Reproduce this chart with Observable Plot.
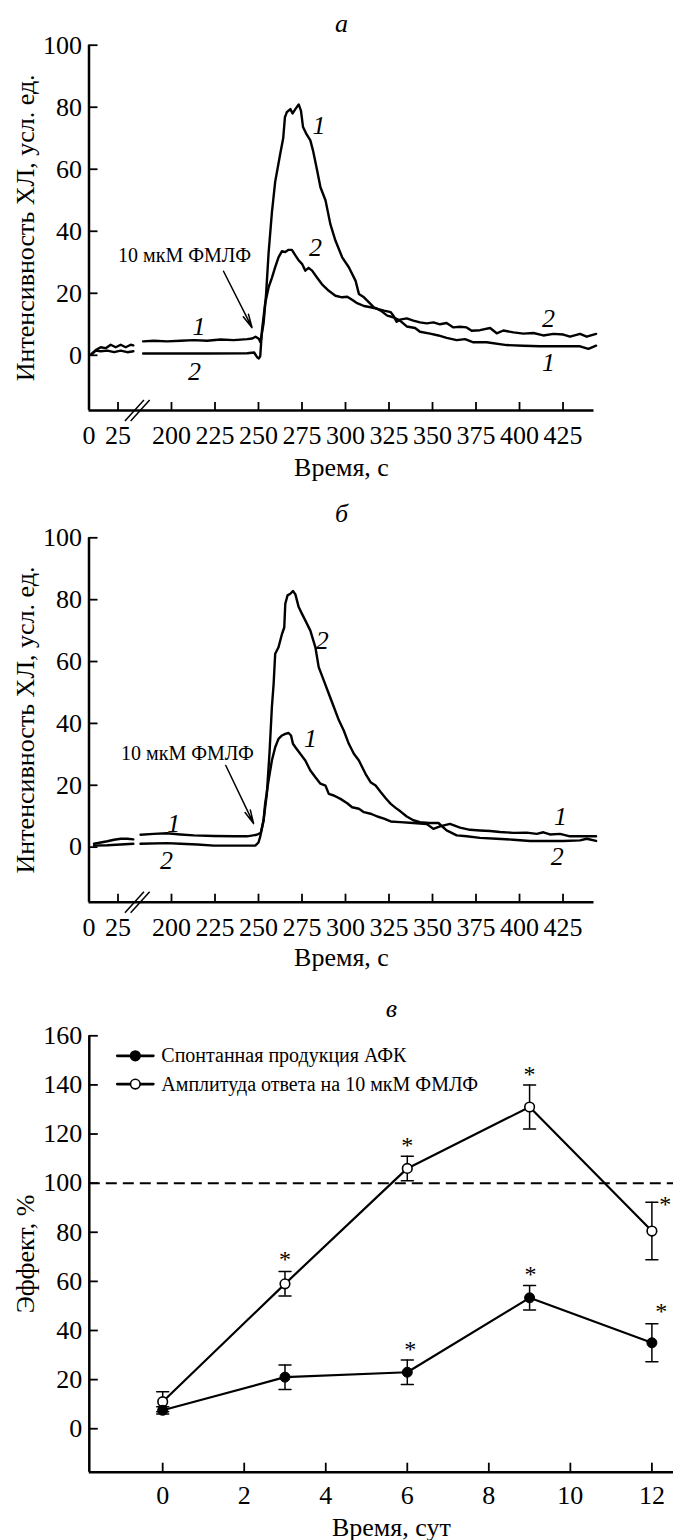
<!DOCTYPE html>
<html>
<head>
<meta charset="utf-8">
<script src="https://cdn.jsdelivr.net/npm/d3@7"></script>
<script src="https://cdn.jsdelivr.net/npm/@observablehq/plot@0.6"></script>
<style>
  body { margin: 0; background: #fff; }
  #chart { width: 673px; }
  #chart svg { display: block; }
</style>
</head>
<body>
<div id="chart"></div>
<script>
const FONT = "'Liberation Serif', 'Times New Roman', serif";
const W = 673;

// ---------- Kinetic panels (а, б) ----------
const timeTicks = [0, 25, 200, 225, 250, 275, 300, 325, 350, 375, 400, 425];
const yTicksKin = [0, 20, 40, 60, 80, 100];
const T_END = 442.8;
const Y_MIN_KIN = -17.8;

// panel а, curve 1  [time s, intensity]
const a1 = [[2,0.4],[5.8,1.7],[10.1,2.6],[14.4,2.3],[18.7,3.4],[23,2.6],[27.3,3.4],[31.6,2.6],[35.9,3.4],[38.2,3.2],
  [183.7,4.5],[189.8,4.7],[197.5,4.5],[205.2,4.7],[212.8,4.9],[220.5,4.7],[228.2,5.1],[235.8,4.9],[243.5,5.2],[246.4,5.4],[248.3,6.0],[250.2,5.3],[251.1,4.2],
  [252.9,10.2],[254.4,20],[255.8,33],[257.7,46],[259.6,56],[262.5,65],[264.2,70],[265.2,76.8],[266.3,78.4],[268.3,79.4],[269.6,78],[271.2,79.4],[273.1,80.9],[274.4,78.9],[275.6,73.6],[277.5,71.4],[279.8,69.3],[281.3,66.1],[283.3,60.7],[285.6,54.2],[288.5,50],[291.3,42.3],[294.2,37],[298.1,31.6],[301.9,28.4],[305.8,24],[307.7,19.8],[310.6,18.7],[313.5,17.1],[316.3,15.5],[320.2,14.4],[324,12.8],[327.9,12.2],[331.3,11.2],[335.2,9.3],[340,8.8],[342.8,7.6],[348.6,7.0],[353.4,6.4],[358.1,5.6],[363.9,4.9],[368.7,5.2],[373.5,4.2],[381.1,4.2],[392.6,3.3],[402.2,3.1],[411.8,2.9],[425.2,2.9],[434.8,2.9],[439.6,2.1],[444,3.1]];
// panel а, curve 2
const a2 = [[2,0.2],[5.8,1.5],[10.1,1.3],[15.8,1.5],[21.6,1.0],[27.3,1.5],[33,1.0],[38.2,1.3],
  [183.7,0.6],[200,0.6],[220,0.6],[243.5,0.65],[247.5,0.9],[249.2,-0.6],[250.2,-1.0],[251,-0.3],[252,8],[253.8,16.6],[255.8,21.9],[257.7,25],[259.6,28.4],[261.5,31.6],[263.5,33.6],[265.4,33.3],[267.3,34],[269.2,34],[271.2,32.2],[273.1,30.6],[275,29.5],[276.9,27.3],[278.8,28.2],[280.8,27.3],[283.7,25],[286.5,22.9],[290.4,20.8],[294.2,19.2],[298.1,18.7],[301,18.9],[303.8,17.9],[306.7,16.8],[310.6,15.9],[314.4,15.5],[318.3,15.0],[322.1,14.4],[326,13.9],[327.5,12.8],[329.4,10.8],[331.3,11.5],[335.2,11.9],[339,11.2],[342.8,10.6],[346.7,10.3],[350.5,10.6],[354.3,10],[358.1,10.4],[362,9.0],[365.8,9.2],[369.6,9.0],[372.5,7.9],[377.3,8.1],[383.1,8.8],[386.9,7.1],[390.7,8.0],[396.5,7.4],[402.2,7.0],[408,7.2],[413.7,6.4],[419.5,6.9],[425.2,6.7],[429,6.0],[434.8,6.9],[438.6,6.0],[444,6.9]];
// panel б, curve 1
const b1 = [[4.3,1.1],[10.1,1.5],[15.8,1.9],[21.6,2.4],[27.3,2.7],[33,2.7],[38.2,2.5],
  [182.2,4.0],[189.8,4.3],[197.5,4.5],[205.2,4.1],[212.8,3.8],[224.4,3.6],[235.8,3.5],[243.5,3.5],[249,4.0],[251.3,4.6],[252.9,8.6],[253.8,14],[255.8,21.6],[257.7,28],[259.6,32.3],[261.5,35],[263.5,36.1],[265.4,36.6],[267.3,36.9],[268.7,36.1],[269.8,33.4],[271.2,32.3],[274,30.2],[276.9,28],[279.8,24.8],[282.7,22.6],[285.6,20.5],[288.5,19.9],[290.4,17.2],[293.3,16.7],[297.1,15.6],[301,14.2],[303.8,12.9],[307.7,12.4],[310.6,11.3],[314.4,10.8],[318.3,9.9],[322.1,9.2],[326,8.3],[331.3,8.1],[339,7.8],[346.7,7.5],[350.5,5.9],[354.3,6.7],[360,7.5],[365.8,6.3],[371.6,5.6],[377.3,5.4],[383.1,5.2],[388.8,4.9],[396.5,4.6],[404.1,4.7],[409.9,4.3],[413.7,4.8],[417.5,4.1],[423.3,4.3],[429,3.5],[434.8,3.5],[444,3.5]];
// panel б, curve 2
const b2 = [[4.3,0.5],[15.8,0.6],[27.3,0.85],[38.2,1.1],
  [182.2,1.1],[197.5,1.3],[205.2,1.1],[214.8,0.85],[224.4,0.5],[234,0.5],[243.5,0.5],[248.3,0.55],[250,1.5],[251,3.4],[252.9,8.6],[254.8,17.2],[256.3,30.2],[257.7,45.3],[258.7,52.8],[259.6,62.5],[261.5,64.6],[263.5,68.9],[264.8,71],[265.4,78.7],[266.7,81.4],[268.3,81.9],[269.8,82.8],[271.2,81.7],[273.1,77.6],[275,75.4],[276.9,73.3],[279.8,70],[282.7,64.6],[284.6,58.2],[287.5,53.9],[290.4,49.6],[293.3,45.3],[296.2,41],[299,37.7],[301.9,33.4],[304.8,30.2],[307.7,28],[311.5,23.7],[314.4,21],[317.3,19.9],[320.2,17.8],[323.1,15.8],[326,14],[328.8,12.7],[331.7,11.5],[335.2,9.9],[339,8.7],[342.8,8.1],[348,7.8],[353.4,7.8],[358.1,5.4],[363.9,3.8],[369.6,3.5],[377.3,3.0],[386.9,2.7],[396.5,2.4],[406,2.0],[415.6,2.0],[425.2,2.0],[434.8,2.2],[438.6,2.7],[444,2.0]];

// curve number labels [time, value, text]
const aLabels = [[215.8,9.3,"1"],[213.2,-5.3,"2"],[284.7,74.1,"1"],[282.8,34.8,"2"],[416.7,11.8,"2"],[416.7,-2.4,"1"]];
const bLabels = [[201.3,7.6,"1"],[197.1,-4.3,"2"],[286.6,66.8,"2"],[279.9,35.0,"1"],[423.6,9.7,"1"],[421.7,-3.2,"2"]];
const stimText = "10 мкМ ФМЛФ";
const aStim = [207.5, 32.2];
const bStim = [209.2, 30.2];
// arrow [t1, v1, t2, v2]
const aArrow = [229.9, 27.1, 246.3, 8.9];
const bArrow = [231.2, 26.4, 247.2, 7.6];

// broken time axis: left part (0–40 s) compressed
function brk(t) { return t < 100 ? t * 0.667 : t - 152.6; }
const BREAK_P = [26.1, 29.4];

const lineShape = { draw(context, l) { context.moveTo(0, 0); context.lineTo(0, -l); } };

function kinetic(cfg) {
  const pTicks = timeTicks.map(brk);
  const fmt = p => String(timeTicks[pTicks.findIndex(q => Math.abs(q - p) < 1e-9)]);
  const X = d => brk(d[0]), Y = d => d[1], Z = d => (d[0] < 100 ? "L" : "R");
  return Plot.plot({
    width: W, height: cfg.height,
    marginTop: cfg.marginTop, marginBottom: cfg.marginBottom,
    marginLeft: 88.5, marginRight: W - 593.5,
    style: { fontFamily: FONT, background: "white", color: "black", overflow: "visible" },
    x: { domain: [0, brk(T_END)] },
    y: { domain: [Y_MIN_KIN, 100] },
    marks: [
      Plot.axisY({ ticks: yTicksKin, tickSize: -9, tickPadding: 16, fontSize: 26, fontFamily: FONT, strokeWidth: 1.8, label: null, tickFormat: d => String(d) }),
      Plot.axisX({ ticks: pTicks, tickSize: -8, tickPadding: 23, fontSize: 26, fontFamily: FONT, strokeWidth: 1.8, label: null, tickFormat: fmt }),
      Plot.ruleX([0], { strokeWidth: 2.5 }),
      Plot.ruleY([Y_MIN_KIN], { strokeWidth: 2.5 }),
      Plot.link(BREAK_P, { x1: p => p - 5.46, x2: p => p + 5.46, y1: Y_MIN_KIN - 3.4, y2: Y_MIN_KIN + 3.4, strokeWidth: 1.5, clip: false }),
      Plot.line(cfg.c1, { x: X, y: Y, z: Z, strokeWidth: 2.4, strokeLinejoin: "round" }),
      Plot.line(cfg.c2, { x: X, y: Y, z: Z, strokeWidth: 2.4, strokeLinejoin: "round" }),
      Plot.text(cfg.labels, { x: X, y: Y, text: d => d[2], fontSize: 26, fontStyle: "italic", fontFamily: FONT, fill: "black" }),
      Plot.text([cfg.stim], { x: X, y: Y, text: () => stimText, fontSize: 20, fontFamily: FONT, fill: "black" }),
      Plot.arrow([cfg.arrow], { x1: d => brk(d[0]), y1: d => d[1], x2: d => brk(d[2]), y2: d => d[3], strokeWidth: 1.5, headLength: 14, headAngle: 24 }),
      Plot.text([cfg.title], { frameAnchor: "top", lineAnchor: "middle", dy: cfg.titleDy, fontSize: 26, fontStyle: "italic", fontFamily: FONT, fill: "black" }),
      Plot.text(["Время, с"], { frameAnchor: "bottom", lineAnchor: "middle", dy: cfg.xLabelDy, fontSize: 26, fontFamily: FONT, fill: "black" }),
      Plot.text(["Интенсивность ХЛ, усл. ед."], { frameAnchor: "left", textAnchor: "middle", lineAnchor: "middle", rotate: -90, dx: -63.5, fontSize: 26, fontFamily: FONT, fill: "black" })
    ]
  });
}

// ---------- Panel в ----------
const days = [0, 3, 6, 9, 12];
const spont = [7.5, 21, 23, 53.3, 35];
const spontErr = [1.5, 5, 5, 5, 7.7];
const fmlp = [11, 59, 106, 131, 80.5];
const fmlpErr = [4.1, 5, 5, 9, 11.7];
const dayTicks = [0, 2, 4, 6, 8, 10, 12];
const yTicksEff = [0, 20, 40, 60, 80, 100, 120, 140, 160];
const seriesNames = ["Спонтанная продукция АФК", "Амплитуда ответа на 10 мкМ ФМЛФ"];
// significance marks [day, value]
const starsFmlp = [[3, 69], [6, 115.5], [9, 144.5], [12.33, 91.5]];
const starsSpont = [[6.07, 32.5], [9.02, 63], [12.23, 48]];
const X_DOM_EFF = [-1.8, 12.53];
const Y_DOM_EFF = [-17.7, 160];

function effectPanel() {
  const S = days.map((d, i) => ({ day: d, v: spont[i], e: spontErr[i] }));
  const F = days.map((d, i) => ({ day: d, v: fmlp[i], e: fmlpErr[i] }));
  const caps = [...S, ...F].flatMap(d => [{ day: d.day, v: d.v - d.e }, { day: d.day, v: d.v + d.e }]);
  const legend = [];
  seriesNames.forEach((name, i) => {
    const dy = 20 + 28.3 * i;
    legend.push(
      Plot.vector([name], { frameAnchor: "top-left", dx: 46, dy, length: 36, rotate: 90, anchor: "middle", shape: lineShape, strokeWidth: 2.8 }),
      Plot.dot([name], { frameAnchor: "top-left", dx: 46, dy, r: 4.8, fill: i === 0 ? "black" : "white", stroke: "black", strokeWidth: 1.6 }),
      Plot.text([name], { frameAnchor: "top-left", dx: 72, dy, textAnchor: "start", lineAnchor: "middle", fontSize: 20, fontFamily: FONT, fill: "black" })
    );
  });
  return Plot.plot({
    width: W, height: 555,
    marginTop: 50.3, marginBottom: 68.3, marginLeft: 88.8, marginRight: 0,
    style: { fontFamily: FONT, background: "white", color: "black", overflow: "visible" },
    x: { domain: X_DOM_EFF },
    y: { domain: Y_DOM_EFF },
    marks: [
      Plot.axisY({ ticks: yTicksEff, tickSize: -9, tickPadding: 16, fontSize: 26, fontFamily: FONT, strokeWidth: 1.8, label: null, tickFormat: d => String(d) }),
      Plot.axisX({ ticks: dayTicks, tickSize: -9, tickPadding: 22.6, fontSize: 26, fontFamily: FONT, strokeWidth: 1.8, label: null, tickFormat: d => String(d) }),
      Plot.ruleX([X_DOM_EFF[0]], { strokeWidth: 2.5 }),
      Plot.ruleY([Y_DOM_EFF[0]], { strokeWidth: 2.5 }),
      Plot.ruleY([100], { strokeWidth: 2, strokeDasharray: "11,6" }),
      Plot.line(F, { x: "day", y: "v", strokeWidth: 2.2 }),
      Plot.line(S, { x: "day", y: "v", strokeWidth: 2.2 }),
      Plot.ruleX([...S, ...F], { x: "day", y1: d => d.v - d.e, y2: d => d.v + d.e, strokeWidth: 1.5 }),
      Plot.vector(caps, { x: "day", y: "v", length: 12, rotate: 90, anchor: "middle", shape: lineShape, strokeWidth: 1.5 }),
      Plot.dot(F, { x: "day", y: "v", r: 4.8, fill: "white", stroke: "black", strokeWidth: 1.6 }),
      Plot.dot(S, { x: "day", y: "v", r: 5, fill: "black", stroke: "black", strokeWidth: 1 }),
      Plot.text([...starsFmlp, ...starsSpont], { x: d => d[0], y: d => d[1], text: () => "*", fontSize: 24, fontFamily: FONT, fill: "black" }),
      ...legend,
      Plot.text(["в"], { frameAnchor: "top", lineAnchor: "middle", dx: 10, dy: -27, fontSize: 26, fontStyle: "italic", fontFamily: FONT, fill: "black" }),
      Plot.text(["Время, сут"], { frameAnchor: "bottom", lineAnchor: "middle", dx: 10, dy: 55, fontSize: 26, fontFamily: FONT, fill: "black" }),
      Plot.text(["Эффект, %"], { frameAnchor: "left", textAnchor: "middle", lineAnchor: "middle", rotate: -90, dx: -64, fontSize: 26, fontFamily: FONT, fill: "black" })
    ]
  });
}

const chart = document.getElementById("chart");
chart.appendChild(kinetic({ height: 490, marginTop: 44.7, marginBottom: 80, c1: a1, c2: a2, labels: aLabels, stim: aStim, arrow: aArrow, title: "а", titleDy: -22, xLabelDy: 57 }));
chart.appendChild(kinetic({ height: 495, marginTop: 47.3, marginBottom: 83.3, c1: b1, c2: b2, labels: bLabels, stim: bStim, arrow: bArrow, title: "б", titleDy: -24, xLabelDy: 55 }));
chart.appendChild(effectPanel());
</script>
</body>
</html>
